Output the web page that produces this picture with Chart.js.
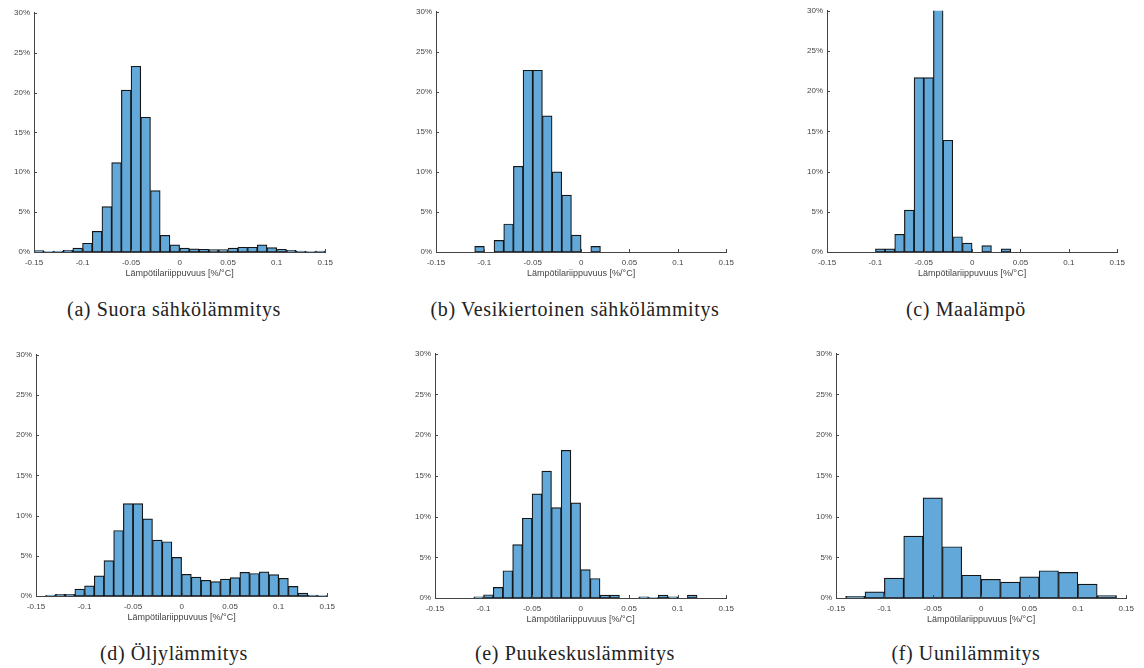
<!DOCTYPE html>
<html>
<head>
<meta charset="utf-8">
<script src="https://cdn.jsdelivr.net/npm/chart.js@4"></script>
<style>
  html, body { margin: 0; padding: 0; background: #fff; }
  body { width: 1144px; height: 668px; position: relative; overflow: hidden; }
  .panel { position: absolute; }
  .caption {
    position: absolute; transform: translate(-50%, -50%);
    font-family: "Liberation Serif", "DejaVu Serif", serif;
    font-size: 20px; letter-spacing: 0.6px; color: #222; white-space: nowrap;
  }
</style>
</head>
<body>
<script>
// Akselit
const xTicks = [-0.15, -0.1, -0.05, 0, 0.05, 0.1, 0.15];
const yTicks = [0, 5, 10, 15, 20, 25, 30];
const xTitle = 'Lämpötilariippuvuus [%/°C]';

// Osuudet (%) luokittain, luokan alku ja leveys
const suoraStart = -0.15, suoraWidth = 0.01;
const suoraShare = [0.17, 0.05, 0.1, 0.2, 0.5, 1.1, 2.6, 5.7, 11.2, 20.3, 23.3, 16.9, 7.7, 2.1, 0.9,
                    0.5, 0.4, 0.35, 0.3, 0.3, 0.5, 0.6, 0.6, 0.9, 0.55, 0.35, 0.2, 0.12, 0.05, 0.12];

const vesiStart = -0.11, vesiWidth = 0.01;
const vesiShare = [0.7, 0, 1.45, 3.5, 10.7, 22.7, 22.7, 17.0, 10.0, 7.1, 2.1, 0, 0.7];

const maaStart = -0.10, maaWidth = 0.01;
const maaShare = [0.4, 0.4, 2.2, 5.2, 21.7, 21.7, 31, 13.9, 1.9, 1.1, 0, 0.8, 0, 0.4];

const oljyStart = -0.14, oljyWidth = 0.01;
const oljyShare = [0.1, 0.2, 0.2, 0.85, 1.25, 2.5, 4.4, 8.15, 11.5, 11.5, 9.6, 6.95, 6.75, 4.8,
                   2.7, 2.35, 1.95, 1.8, 2.1, 2.3, 2.95, 2.8, 3.0, 2.65, 2.2, 1.2, 0.35, 0.12, 0.05];

const puuStart = -0.11, puuWidth = 0.01;
const puuShare = [0.15, 0.4, 1.3, 3.35, 6.55, 9.8, 12.8, 15.6, 11.1, 18.15, 11.7,
                  3.5, 2.4, 0.35, 0.35, 0, 0, 0.15, 0.05, 0.35, 0.15, 0, 0.35];

const uuniStart = -0.14, uuniWidth = 0.02;
const uuniShare = [0.2, 0.75, 2.45, 7.6, 12.3, 6.3, 2.8, 2.3, 1.95, 2.6, 3.35, 3.15, 1.7, 0.3];

const captions = ['(a) Suora sähkölämmitys', '(b) Vesikiertoinen sähkölämmitys', '(c) Maalämpö',
                  '(d) Öljylämmitys', '(e) Puukeskuslämmitys', '(f) Uunilämmitys'];

// Kuvaajien paikat sivulla (piirtoalueen reunat)
const panels = [
  { share: suoraShare, start: suoraStart, width: suoraWidth, L: 34,  R: 327,  T: 12,  B: 252, cx: 174, cy: 309 },
  { share: vesiShare,  start: vesiStart,  width: vesiWidth,  L: 436, R: 728,  T: 11,  B: 252, cx: 575, cy: 309 },
  { share: maaShare,   start: maaStart,   width: maaWidth,   L: 827, R: 1119, T: 10,  B: 252, cx: 966, cy: 309 },
  { share: oljyShare,  start: oljyStart,  width: oljyWidth,  L: 36,  R: 329,  T: 354, B: 596, cx: 174, cy: 653 },
  { share: puuShare,   start: puuStart,   width: puuWidth,   L: 435, R: 728,  T: 353, B: 598, cx: 575, cy: 653 },
  { share: uuniShare,  start: uuniStart,  width: uuniWidth,  L: 836, R: 1128, T: 353, B: 598, cx: 966, cy: 653 }
];

const PAD_L = 40, PAD_R = 12, PAD_T = 8, PAD_B = 27;
const axisColor = '#444';
const textColor = '#444';

// MATLAB-tyyliset sisäänpäin osoittavat tikit
const innerTicks = {
  id: 'innerTicks',
  afterDraw(chart) {
    const { ctx, chartArea, scales } = chart;
    ctx.save();
    ctx.strokeStyle = axisColor;
    ctx.lineWidth = 1;
    ctx.beginPath();
    xTicks.forEach(v => {
      const px = Math.round(scales.x.getPixelForValue(v)) + 0.5;
      ctx.moveTo(px, chartArea.bottom);
      ctx.lineTo(px, chartArea.bottom - 3);
    });
    yTicks.forEach(v => {
      const py = Math.round(scales.y.getPixelForValue(v)) + 0.5;
      ctx.moveTo(chartArea.left, py);
      ctx.lineTo(chartArea.left + 3, py);
    });
    ctx.stroke();
    ctx.restore();
  }
};

panels.forEach((p, i) => {
  const div = document.createElement('div');
  div.className = 'panel';
  div.style.left = (p.L - PAD_L) + 'px';
  div.style.top = (p.T - PAD_T) + 'px';
  div.style.width = (p.R - p.L + PAD_L + PAD_R) + 'px';
  div.style.height = (p.B - p.T + PAD_T + PAD_B) + 'px';
  const canvas = document.createElement('canvas');
  div.appendChild(canvas);
  document.body.appendChild(div);

  const cap = document.createElement('div');
  cap.className = 'caption';
  cap.style.left = p.cx + 'px';
  cap.style.top = p.cy + 'px';
  cap.textContent = captions[i];
  document.body.appendChild(cap);

  const points = p.share.map((v, k) => ({ x: p.start + (k + 0.5) * p.width, y: v }));

  new Chart(canvas, {
    type: 'bar',
    data: {
      datasets: [{
        data: points,
        backgroundColor: '#62a8d9',
        borderColor: '#151515',
        borderWidth: 1.2,
        borderSkipped: false,
        barPercentage: 1,
        categoryPercentage: 1
      }]
    },
    options: {
      responsive: true,
      maintainAspectRatio: false,
      animation: false,
      layout: { padding: { left: 0, right: PAD_R, top: PAD_T, bottom: 0 } },
      plugins: { legend: { display: false }, tooltip: { enabled: false } },
      scales: {
        x: {
          type: 'linear',
          offset: false,
          min: -0.15,
          max: 0.15,
          afterBuildTicks: s => { s.ticks = xTicks.map(v => ({ value: v })); },
          afterFit: s => { s.height = PAD_B; },
          grid: { display: false, drawTicks: false },
          border: { display: true, color: axisColor, width: 1 },
          ticks: {
            padding: 6,
            maxRotation: 0,
            autoSkip: false,
            color: textColor,
            font: { family: 'Liberation Sans', size: 8 },
            callback: v => String(Number(v.toFixed(2)))
          },
          title: {
            display: true,
            text: xTitle,
            color: textColor,
            padding: { top: 0, bottom: 0 },
            font: { family: 'Liberation Sans', size: 9 }
          }
        },
        y: {
          min: 0,
          max: 30,
          afterBuildTicks: s => { s.ticks = yTicks.map(v => ({ value: v })); },
          afterFit: s => { s.width = PAD_L; },
          grid: { display: false, drawTicks: false },
          border: { display: true, color: axisColor, width: 1 },
          ticks: {
            padding: 4,
            color: textColor,
            font: { family: 'Liberation Sans', size: 8 },
            callback: v => v + '%'
          }
        }
      }
    },
    plugins: [innerTicks]
  });
});
</script>
</body>
</html>
